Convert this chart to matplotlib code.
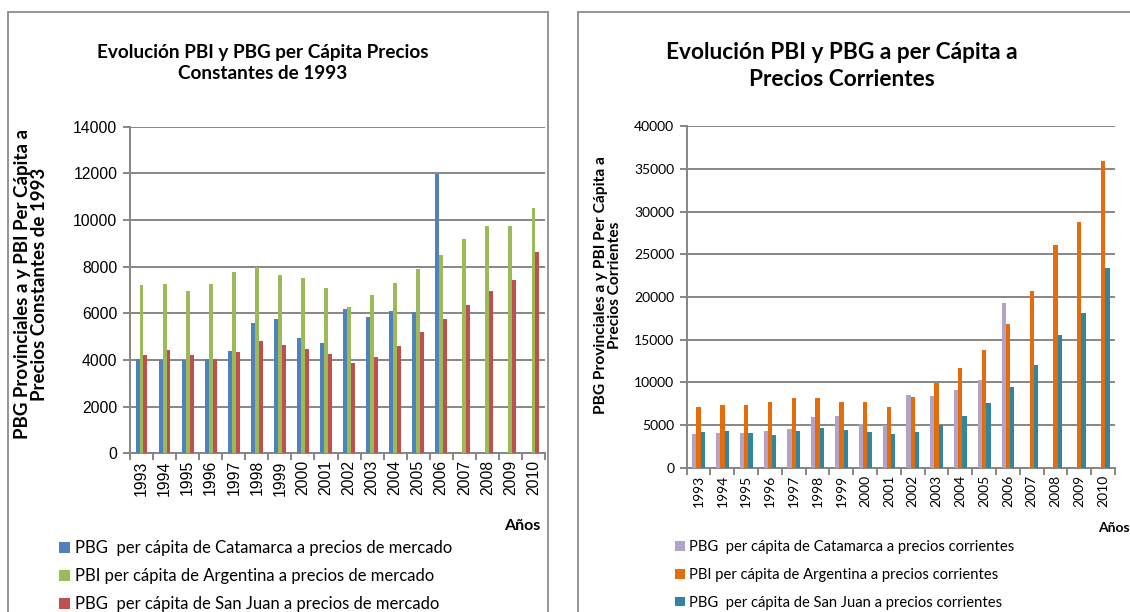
import numpy as np
import matplotlib
matplotlib.use("Agg")
import matplotlib.pyplot as plt
from matplotlib.patches import Rectangle

years = ["1993", "1994", "1995", "1996", "1997", "1998", "1999", "2000", "2001",
         "2002", "2003", "2004", "2005", "2006", "2007", "2008", "2009", "2010"]

# Left chart: constant 1993 prices
catamarca_const = [4030, 4000, 4000, 4030, 4400, 5600, 5740, 4940, 4740,
                   6200, 5840, 6100, 6070, 11960, np.nan, np.nan, np.nan, np.nan]
argentina_const = [7210, 7270, 6970, 7270, 7770, 7990, 7630, 7500, 7100,
                   6280, 6770, 7310, 7910, 8510, 9190, 9730, 9730, 10510]
sanjuan_const = [4210, 4430, 4210, 4030, 4340, 4810, 4630, 4460, 4240,
                 3860, 4130, 4590, 5210, 5760, 6370, 6970, 7440, 8640]

# Right chart: current prices
catamarca_curr = [4000, 4100, 4100, 4260, 4540, 5900, 6090, 5160, 4950,
                  8520, 8400, 9140, 10240, 19340, np.nan, np.nan, np.nan, np.nan]
argentina_curr = [7110, 7380, 7310, 7670, 8170, 8200, 7700, 7670, 7110,
                  8290, 9890, 11690, 13790, 16840, 20710, 26140, 28800, 35950]
sanjuan_curr = [4150, 4340, 4030, 3870, 4300, 4620, 4450, 4220, 3990,
                4220, 5000, 6060, 7550, 9420, 12070, 15550, 18100, 23400]

labels_const = ["PBG  per cápita de Catamarca a precios de mercado",
                "PBI per cápita de Argentina a precios de mercado",
                "PBG  per cápita de San Juan a precios de mercado"]
labels_curr = ["PBG  per cápita de Catamarca a precios corrientes",
               "PBI per cápita de Argentina a precios corrientes",
               "PBG  per cápita de San Juan a precios corrientes"]

W, H = 1130, 612
fig = plt.figure(figsize=(W / 100, H / 100), dpi=100)
fig.patch.set_facecolor("white")

SANS = ["Lato", "DejaVu Sans"]
ARIAL = ["Liberation Sans", "DejaVu Sans"]
GRID = "#868686"


def fx(x):
    return x / W


def fy(y):
    return 1 - y / H


def axes_px(l, t, r, b):
    return fig.add_axes([fx(l), fy(b), (r - l) / W, (b - t) / H])


# chart borders
fig.patches.append(Rectangle((fx(8), fy(640)), (548 - 8) / W, (640 - 12) / H,
                             transform=fig.transFigure, fill=False,
                             edgecolor="#8c8c8c", lw=1.3))
fig.patches.append(Rectangle((fx(578), fy(640)), (1160 - 578) / W, (640 - 12) / H,
                             transform=fig.transFigure, fill=False,
                             edgecolor="#8c8c8c", lw=1.3))


def draw(ax, series, colors, ymax, ystep, bw, tickfont, tickfs, xfs):
    x = np.arange(len(years))
    conts = []
    for i, (s, c) in enumerate(zip(series, colors)):
        conts.append(ax.bar(x + (i - 1) * bw, s, width=bw, color=c,
                            linewidth=0, zorder=3))
    ax.set_xlim(-0.5, len(years) - 0.5)
    ax.set_ylim(0, ymax)
    ax.set_yticks(np.arange(0, ymax + 1, ystep))
    ax.yaxis.grid(True, color=GRID, lw=1.4, zorder=0)
    ax.set_axisbelow(True)
    for sp in ["top", "right"]:
        ax.spines[sp].set_visible(False)
    for sp in ["left", "bottom"]:
        ax.spines[sp].set_color(GRID)
        ax.spines[sp].set_linewidth(1.4)
    ax.set_xticks(np.arange(-0.5, len(years)), minor=False)
    ax.set_xticklabels([])
    ax.set_xticks(x, minor=True)
    ax.set_xticklabels(years, minor=True, rotation=90,
                       family=tickfont, fontsize=xfs)
    ax.tick_params(axis="x", which="major", length=5, color=GRID, width=1.4)
    ax.tick_params(axis="x", which="minor", length=0, pad=5)
    ax.tick_params(axis="y", length=5, color=GRID, width=1.4, pad=4)
    for lab in ax.get_yticklabels():
        lab.set_family(tickfont)
        lab.set_fontsize(tickfs)
    return conts


# ---------- left chart ----------
ax1 = axes_px(130, 126.7, 545, 453.3)
c1 = draw(ax1, [catamarca_const, argentina_const, sanjuan_const],
          ["#4F81BD", "#9BBB59", "#C0504D"], 14000, 2000, 0.17,
          ARIAL, 11.3, 11.3)
fig.text(fx(263), fy(63), "Evolución PBI y PBG per Cápita Precios\nConstantes de 1993",
         ha="center", va="center", fontsize=13.6, fontweight="bold",
         family=SANS, linespacing=1.35)
fig.text(fx(31), fy(284), "PBG Provinciales a y PBI Per Cápita a\nPrecios Constantes de 1993",
         ha="center", va="center", rotation=90, fontsize=13.5,
         fontweight="bold", family=SANS, linespacing=0.98)
fig.text(fx(522), fy(526), "Años", ha="center", va="center", fontsize=11.5,
         fontweight="bold", family=SANS)
fig.legend(c1, labels_const, loc="upper left",
           bbox_to_anchor=(fx(59), fy(540)), frameon=False,
           prop={"family": SANS, "size": 12}, handlelength=0.65,
           handleheight=0.65, handletextpad=0.3, labelspacing=0.73,
           borderpad=0, borderaxespad=0)

# ---------- right chart ----------
ax2 = axes_px(686.7, 126.3, 1115, 467.7)
c2 = draw(ax2, [catamarca_curr, argentina_curr, sanjuan_curr],
          ["#B3A2C7", "#E46C0A", "#31859C"], 40000, 5000, 0.18,
          SANS, 10, 10)
fig.text(fx(842), fy(66), "Evolución PBI y PBG a per Cápita a\nPrecios Corrientes",
         ha="center", va="center", fontsize=16.3, fontweight="bold",
         family=SANS, linespacing=1.38)
fig.text(fx(608), fy(285), "PBG Provinciales a y PBI Per Cápita a\nPrecios Corrientes",
         ha="center", va="center", rotation=90, fontsize=11.2,
         fontweight="bold", family=SANS, linespacing=1.05)
fig.text(fx(1098), fy(528), "Años", ha="left", va="center", fontsize=10,
         fontweight="bold", family=SANS)
fig.legend(c2, labels_curr, loc="upper left",
           bbox_to_anchor=(fx(675), fy(540)), frameon=False,
           prop={"family": SANS, "size": 10.6}, handlelength=0.65,
           handleheight=0.65, handletextpad=0.3, labelspacing=0.94,
           borderpad=0, borderaxespad=0)

fig.savefig("out.png", dpi=100, facecolor="white")
